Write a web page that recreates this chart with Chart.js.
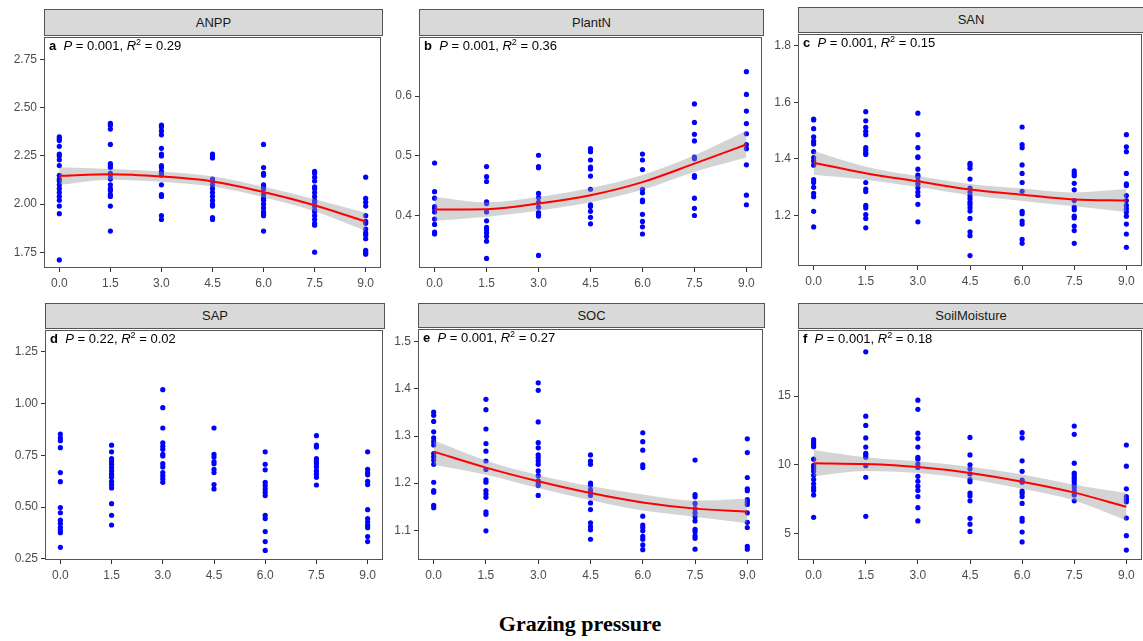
<!DOCTYPE html>
<html>
<head>
<meta charset="utf-8">
<script src="https://cdn.jsdelivr.net/npm/chart.js@4.4.0/dist/chart.umd.min.js"></script>
<style>
    body { margin: 0; background: #fff; width: 1143px; height: 641px; position: relative; overflow: hidden; font-family: 'Liberation Sans', Arial, sans-serif; }
    canvas { position: absolute; }
    .strip { position: absolute; box-sizing: border-box; background: #d9d9d9; border: 1px solid #555; color: #1a1a1a; font-size: 13px; text-align: center; }
    .nota { position: absolute; font-size: 13px; color: #000; white-space: pre; line-height: 16px; }
    .nota sup { font-size: 9px; vertical-align: 5px; line-height: 0; }
    #titulo { position: absolute; left: 0; width: 1160px; top: 611px; text-align: center; font-family: 'Liberation Serif', 'Times New Roman', serif; font-weight: bold; font-size: 22px; }
</style>
</head>
<body>
<div id="titulo">Grazing pressure</div>
<script>
// Níveis de pastejo (eixo x) - também são os ticks
const pastejo = [0, 1.5, 3, 4.5, 6, 7.5, 9];

// ANPP - observações por nível
const anppObs = [
    [2.35, 2.34, 2.33, 2.30, 2.26, 2.25, 2.23, 2.20, 2.15, 2.13, 2.12, 2.10, 2.08, 2.06, 2.04, 2.02, 1.99, 1.95, 1.71],
    [2.42, 2.41, 2.39, 2.31, 2.21, 2.20, 2.19, 2.16, 2.15, 2.13, 2.10, 2.08, 2.07, 2.05, 2.04, 1.99, 1.86],
    [2.41, 2.40, 2.38, 2.36, 2.29, 2.26, 2.25, 2.20, 2.19, 2.17, 2.16, 2.15, 2.10, 2.05, 2.04, 1.94, 1.92],
    [2.26, 2.25, 2.24, 2.13, 2.12, 2.10, 2.08, 2.06, 2.04, 2.02, 2.00, 1.99, 1.93, 1.92],
    [2.31, 2.19, 2.16, 2.15, 2.10, 2.09, 2.08, 2.05, 2.03, 2.02, 2.00, 1.98, 1.96, 1.95, 1.94, 1.86],
    [2.17, 2.16, 2.14, 2.12, 2.09, 2.08, 2.06, 2.04, 2.02, 2.01, 1.99, 1.97, 1.96, 1.94, 1.92, 1.90, 1.89, 1.75],
    [2.14, 2.03, 2.01, 1.99, 1.94, 1.91, 1.90, 1.87, 1.85, 1.84, 1.82, 1.76, 1.75, 1.74]
];
const anppAjuste = [2.147, 2.155, 2.143, 2.118, 2.063, 1.994, 1.909];
const anppSup = [2.191, 2.183, 2.170, 2.145, 2.090, 2.025, 1.955];
const anppInf = [2.100, 2.127, 2.116, 2.091, 2.036, 1.963, 1.861];
const anppTicks = [1.75, 2.00, 2.25, 2.50, 2.75];

// PlantN
const plantNObs = [
    [0.488, 0.440, 0.429, 0.415, 0.412, 0.406, 0.394, 0.385, 0.372, 0.369],
    [0.482, 0.465, 0.457, 0.423, 0.420, 0.406, 0.391, 0.380, 0.376, 0.371, 0.365, 0.357, 0.328],
    [0.501, 0.482, 0.480, 0.437, 0.430, 0.422, 0.414, 0.405, 0.402, 0.399, 0.333],
    [0.512, 0.507, 0.493, 0.481, 0.478, 0.466, 0.444, 0.418, 0.415, 0.407, 0.397, 0.386],
    [0.503, 0.493, 0.477, 0.444, 0.438, 0.426, 0.423, 0.402, 0.390, 0.381, 0.369],
    [0.587, 0.556, 0.536, 0.525, 0.498, 0.495, 0.467, 0.464, 0.429, 0.412, 0.400],
    [0.641, 0.603, 0.575, 0.554, 0.537, 0.519, 0.512, 0.485, 0.434, 0.418]
];
const plantNAjuste = [0.410, 0.4105, 0.420, 0.434, 0.456, 0.487, 0.519];
const plantNSup = [0.431, 0.422, 0.431, 0.446, 0.468, 0.501, 0.542];
const plantNInf = [0.391, 0.398, 0.408, 0.422, 0.443, 0.473, 0.497];
const plantNTicks = [0.4, 0.5, 0.6];

// SAN
const sanObs = [
    [1.541, 1.538, 1.507, 1.478, 1.463, 1.453, 1.426, 1.405, 1.393, 1.378, 1.327, 1.317, 1.300, 1.279, 1.267, 1.215, 1.160],
    [1.567, 1.535, 1.512, 1.498, 1.486, 1.440, 1.431, 1.422, 1.416, 1.317, 1.294, 1.285, 1.236, 1.227, 1.204, 1.190, 1.157],
    [1.562, 1.486, 1.440, 1.408, 1.405, 1.364, 1.343, 1.337, 1.323, 1.312, 1.298, 1.283, 1.271, 1.240, 1.178],
    [1.385, 1.378, 1.367, 1.329, 1.297, 1.283, 1.271, 1.260, 1.248, 1.240, 1.228, 1.216, 1.190, 1.143, 1.129, 1.059],
    [1.513, 1.451, 1.440, 1.379, 1.349, 1.317, 1.286, 1.215, 1.207, 1.181, 1.170, 1.116, 1.102],
    [1.358, 1.349, 1.341, 1.314, 1.291, 1.253, 1.230, 1.221, 1.198, 1.192, 1.163, 1.147, 1.102],
    [1.486, 1.443, 1.426, 1.349, 1.312, 1.306, 1.271, 1.253, 1.236, 1.224, 1.213, 1.198, 1.170, 1.135, 1.088]
];
const sanAjuste = [1.387, 1.350, 1.321, 1.292, 1.274, 1.257, 1.253];
const sanSup = [1.428, 1.373, 1.340, 1.312, 1.296, 1.282, 1.294];
const sanInf = [1.344, 1.327, 1.301, 1.272, 1.252, 1.233, 1.213];
const sanTicks = [1.2, 1.4, 1.6, 1.8];

// SAP (sem curva ajustada)
const sapObs = [
    [0.853, 0.834, 0.821, 0.787, 0.667, 0.623, 0.498, 0.473, 0.437, 0.421, 0.402, 0.387, 0.377, 0.306],
    [0.799, 0.767, 0.734, 0.720, 0.707, 0.691, 0.675, 0.659, 0.644, 0.625, 0.609, 0.593, 0.517, 0.461, 0.414],
    [1.067, 0.980, 0.882, 0.810, 0.794, 0.779, 0.755, 0.747, 0.710, 0.694, 0.667, 0.652, 0.636, 0.620],
    [0.882, 0.755, 0.742, 0.720, 0.710, 0.683, 0.667, 0.609, 0.588],
    [0.767, 0.707, 0.680, 0.620, 0.604, 0.588, 0.572, 0.556, 0.461, 0.445, 0.382, 0.334, 0.291],
    [0.845, 0.799, 0.790, 0.734, 0.723, 0.710, 0.694, 0.675, 0.659, 0.644, 0.607],
    [0.767, 0.683, 0.667, 0.656, 0.625, 0.609, 0.488, 0.445, 0.429, 0.413, 0.401, 0.358, 0.334]
];
const sapTicks = [0.25, 0.50, 0.75, 1.00, 1.25];

// SOC
const socObs = [
    [1.351, 1.344, 1.331, 1.309, 1.296, 1.288, 1.281, 1.263, 1.256, 1.249, 1.240, 1.202, 1.184, 1.181, 1.153, 1.148],
    [1.378, 1.356, 1.315, 1.284, 1.268, 1.247, 1.229, 1.207, 1.202, 1.184, 1.177, 1.170, 1.139, 1.134, 1.099],
    [1.413, 1.397, 1.330, 1.286, 1.275, 1.260, 1.254, 1.247, 1.240, 1.226, 1.216, 1.205, 1.198, 1.195, 1.174],
    [1.260, 1.247, 1.240, 1.200, 1.195, 1.186, 1.181, 1.174, 1.158, 1.144, 1.116, 1.108, 1.101, 1.081],
    [1.307, 1.288, 1.270, 1.239, 1.233, 1.130, 1.111, 1.106, 1.099, 1.087, 1.081, 1.069, 1.059],
    [1.249, 1.176, 1.171, 1.157, 1.146, 1.137, 1.129, 1.120, 1.102, 1.097, 1.088, 1.083, 1.060],
    [1.294, 1.265, 1.212, 1.188, 1.184, 1.165, 1.160, 1.155, 1.137, 1.117, 1.106, 1.066, 1.060]
];
const socAjuste = [1.267, 1.233, 1.204, 1.179, 1.159, 1.146, 1.140];
const socSup = [1.291, 1.248, 1.217, 1.194, 1.176, 1.163, 1.167];
const socInf = [1.239, 1.218, 1.190, 1.164, 1.142, 1.129, 1.115];
const socTicks = [1.1, 1.2, 1.3, 1.4, 1.5];

// SoilMoisture
const umidadeObs = [
    [11.84, 11.67, 11.48, 11.32, 10.41, 9.95, 9.76, 9.52, 9.23, 8.92, 8.61, 8.33, 8.13, 7.80, 6.17],
    [18.23, 13.54, 12.87, 11.96, 11.29, 10.84, 10.72, 10.55, 9.93, 9.09, 6.24],
    [14.71, 14.04, 12.30, 11.91, 11.29, 10.55, 10.41, 10.05, 9.81, 9.16, 8.80, 8.44, 8.13, 7.68, 6.87, 5.91],
    [11.99, 10.72, 10.00, 9.71, 9.33, 8.92, 8.76, 7.94, 7.73, 7.37, 6.10, 5.67, 5.14],
    [12.34, 11.96, 10.29, 9.52, 8.88, 8.73, 8.09, 7.92, 7.68, 7.18, 6.10, 5.89, 5.10, 4.38],
    [12.82, 12.22, 10.12, 9.40, 9.28, 9.09, 8.92, 8.76, 8.56, 8.33, 8.09, 7.80, 7.37],
    [11.44, 9.90, 8.25, 7.68, 7.49, 7.30, 6.12, 4.83, 3.78]
];
const umidadeAjuste = [10.12, 10.05, 9.83, 9.40, 8.76, 7.97, 6.94];
const umidadeSup = [11.08, 10.55, 10.25, 9.85, 9.30, 8.55, 7.95];
const umidadeInf = [9.16, 9.55, 9.40, 8.95, 8.25, 7.40, 5.95];
const umidadeTicks = [5, 10, 15];

// Configuração de cada painel (posição na página + escalas)
const paineis = [
    { nome: 'ANPP', letra: 'a', p: '0.001', r2: '0.29', obs: anppObs, ajuste: anppAjuste, sup: anppSup, inf: anppInf, ticks: anppTicks, casas: 2, min: 1.668, max: 2.863, caixa: [44, 35, 383, 268], topoFaixa: 9 },
    { nome: 'PlantN', letra: 'b', p: '0.001', r2: '0.36', obs: plantNObs, ajuste: plantNAjuste, sup: plantNSup, inf: plantNInf, ticks: plantNTicks, casas: 1, min: 0.312, max: 0.6975, caixa: [419, 35, 764, 268], topoFaixa: 9 },
    { nome: 'SAN', letra: 'c', p: '0.001', r2: '0.15', obs: sanObs, ajuste: sanAjuste, sup: sanSup, inf: sanInf, ticks: sanTicks, casas: 1, min: 1.022, max: 1.838, caixa: [798, 32, 1144, 266], topoFaixa: 7 },
    { nome: 'SAP', letra: 'd', p: '0.22', r2: '0.02', obs: sapObs, ajuste: null, ticks: sapTicks, casas: 2, min: 0.245, max: 1.35, caixa: [45, 328, 385, 560], topoFaixa: 303 },
    { nome: 'SOC', letra: 'e', p: '0.001', r2: '0.27', obs: socObs, ajuste: socAjuste, sup: socSup, inf: socInf, ticks: socTicks, casas: 1, min: 1.037, max: 1.525, caixa: [418, 327, 765, 560], topoFaixa: 303 },
    { nome: 'SoilMoisture', letra: 'f', p: '0.001', r2: '0.18', obs: umidadeObs, ajuste: umidadeAjuste, sup: umidadeSup, inf: umidadeInf, ticks: umidadeTicks, casas: 0, min: 3.06, max: 19.75, caixa: [798, 328, 1144, 560], topoFaixa: 303 }
];

// Plugin que desenha a moldura do painel (panel.border do ggplot)
const molduraPlugin = {
    id: 'moldura',
    afterDatasetsDraw(chart) {
        const a = chart.chartArea;
        const ctx = chart.ctx;
        ctx.save();
        ctx.strokeStyle = '#555';
        ctx.lineWidth = 1;
        ctx.strokeRect(Math.round(a.left) + 0.5, Math.round(a.top) - 0.5, Math.round(a.right - a.left) - 1, Math.round(a.bottom - a.top));
        ctx.restore();
    }
};

function serie(valores) {
    return valores.map((v, i) => ({ x: pastejo[i], y: v }));
}

function criarPainel(pn) {
    const [esq, topo, dir, base] = pn.caixa;

    // faixa cinza com o nome da variável
    let faixa = document.createElement('div');
    faixa.className = 'strip';
    faixa.style.left = esq + 'px';
    faixa.style.top = pn.topoFaixa + 'px';
    faixa.style.width = (dir - esq) + 'px';
    faixa.style.height = (topo - pn.topoFaixa + 1) + 'px';
    faixa.style.lineHeight = (topo - pn.topoFaixa - 1) + 'px';
    faixa.textContent = pn.nome;
    document.body.appendChild(faixa);

    // canvas do gráfico
    let canvas = document.createElement('canvas');
    const largura = dir - esq + 44 + 2;
    const altura = base - topo + 28;
    canvas.width = largura;
    canvas.height = altura;
    canvas.style.left = (esq - 44) + 'px';
    canvas.style.top = (topo - 1) + 'px';
    document.body.appendChild(canvas);

    // pontos observados
    let pontos = [];
    for (let i = 0; i < pn.obs.length; i++) {
        for (let j = 0; j < pn.obs[i].length; j++) {
            pontos.push({ x: pastejo[i], y: pn.obs[i][j] });
        }
    }

    let datasets = [{
        label: 'obs',
        data: pontos,
        backgroundColor: '#0000ff',
        borderWidth: 0,
        pointRadius: 2.6,
        order: 3
    }];

    if (pn.ajuste) {
        datasets.push({
            label: 'sup',
            type: 'line',
            data: serie(pn.sup),
            borderWidth: 0,
            borderColor: 'rgba(0,0,0,0)',
            pointRadius: 0,
            cubicInterpolationMode: 'monotone',
            fill: false,
            order: 2
        });
        datasets.push({
            label: 'inf',
            type: 'line',
            data: serie(pn.inf),
            borderWidth: 0,
            borderColor: 'rgba(0,0,0,0)',
            backgroundColor: 'rgba(153,153,153,0.42)',
            pointRadius: 0,
            cubicInterpolationMode: 'monotone',
            fill: '-1',
            order: 1
        });
        datasets.push({
            label: 'ajuste',
            type: 'line',
            data: serie(pn.ajuste),
            borderColor: '#ff0000',
            borderWidth: 2,
            pointRadius: 0,
            cubicInterpolationMode: 'monotone',
            fill: false,
            order: 0
        });
    }

    const fonteTicks = { family: "'Liberation Sans', Arial, sans-serif", size: 12 };

    new Chart(canvas, {
        type: 'scatter',
        data: { datasets: datasets },
        plugins: [molduraPlugin],
        options: {
            responsive: false,
            animation: false,
            devicePixelRatio: 1,
            layout: { padding: { top: 1, right: 2, left: 0, bottom: 0 } },
            plugins: { legend: { display: false }, tooltip: { enabled: false } },
            scales: {
                x: {
                    type: 'linear',
                    min: -0.45,
                    max: 9.45,
                    border: { display: false },
                    grid: { drawOnChartArea: false, drawTicks: true, tickLength: 4, color: '#333' },
                    ticks: { color: '#4d4d4d', font: fonteTicks, padding: 4, maxRotation: 0, callback: (v) => v.toFixed(1) },
                    afterBuildTicks: (eixo) => { eixo.ticks = pastejo.map(v => ({ value: v })); },
                    afterFit: (eixo) => { eixo.height = 27; eixo.paddingLeft = 0; eixo.paddingRight = 0; }
                },
                y: {
                    type: 'linear',
                    min: pn.min,
                    max: pn.max,
                    border: { display: false },
                    grid: { drawOnChartArea: false, drawTicks: true, tickLength: 4, color: '#333' },
                    ticks: { color: '#4d4d4d', font: fonteTicks, padding: 3, callback: (v) => v.toFixed(pn.casas) },
                    afterBuildTicks: (eixo) => { eixo.ticks = pn.ticks.map(v => ({ value: v })); },
                    afterFit: (eixo) => { eixo.width = 44; eixo.paddingTop = 0; eixo.paddingBottom = 0; }
                }
            }
        }
    });

    // anotação com P e R²
    let nota = document.createElement('div');
    nota.className = 'nota';
    nota.style.left = (esq + 5) + 'px';
    nota.style.top = (topo + 3) + 'px';
    nota.innerHTML = '<b>' + pn.letra + '</b>  <i>P</i> = ' + pn.p + ', <i>R</i><sup>2</sup> = ' + pn.r2;
    document.body.appendChild(nota);
}

paineis.forEach(criarPainel);
</script>
</body>
</html>
